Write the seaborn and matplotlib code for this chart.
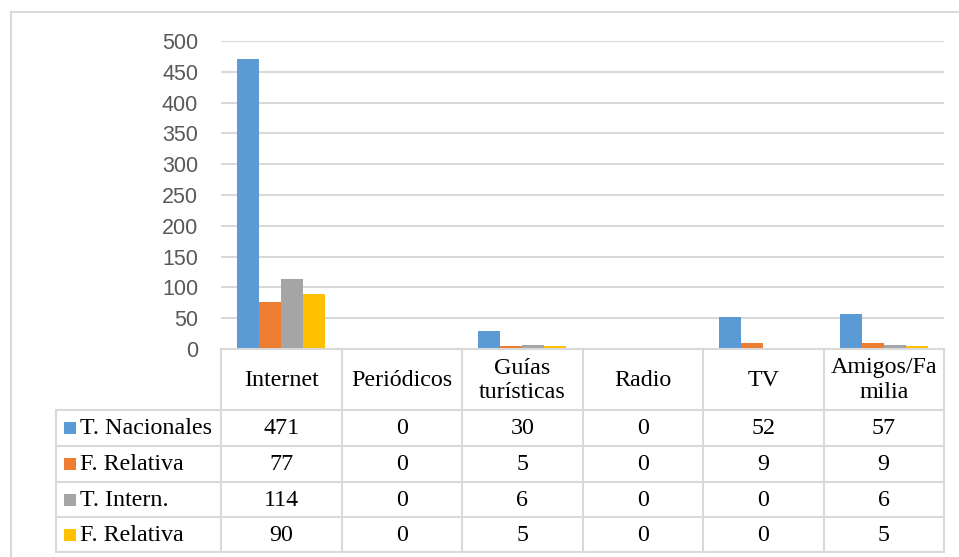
import matplotlib
matplotlib.use("Agg")
import matplotlib.pyplot as plt
import seaborn as sns
import pandas as pd

# ---- data ----
categories = ["Internet", "Periódicos", "Guías\nturísticas", "Radio", "TV", "Amigos/Fa\nmilia"]
series_labels = ["T. Nacionales", "F. Relativa", "T. Intern.", "F. Relativa"]
t_nacionales = [471, 0, 30, 0, 52, 57]
f_relativa_nac = [77, 0, 5, 0, 9, 9]
t_intern = [114, 0, 6, 0, 0, 6]
f_relativa_int = [90, 0, 5, 0, 0, 5]
series_values = [t_nacionales, f_relativa_nac, t_intern, f_relativa_int]
series_colors = ["#5B9BD5", "#ED7D31", "#A5A5A5", "#FFC000"]
y_ticks = [0, 50, 100, 150, 200, 250, 300, 350, 400, 450, 500]

series_keys = [f"{lab}#{i}" for i, lab in enumerate(series_labels)]
rows = []
for key, vals in zip(series_keys, series_values):
    for cat, v in zip(categories, vals):
        rows.append({"Categoría": cat, "Valor": v, "Serie": key})
df = pd.DataFrame(rows)
palette = dict(zip(series_keys, series_colors))

W, H = 959, 557
fig = plt.figure(figsize=(W / 100, H / 100), dpi=100)

x0, x1 = 221, 944
y0, ytop = 349, 41
ax = fig.add_axes([x0 / W, (H - y0) / H, (x1 - x0) / W, (y0 - ytop) / H])
sns.barplot(data=df, x="Categoría", y="Valor", hue="Serie", order=categories,
            hue_order=series_keys, palette=palette, width=0.73, saturation=1,
            legend=False, ax=ax, linewidth=0)
ax.set_xlim(-0.5, len(categories) - 0.5)
ax.set_ylim(0, 500)
ax.set_yticks(y_ticks)
ax.set_yticklabels([str(t) for t in y_ticks], fontfamily="Liberation Sans",
                   fontsize=15.5, color="#595959")
ax.set_xticks([])
ax.set_xlabel("")
ax.set_ylabel("")
ax.tick_params(axis="y", length=0, pad=16.5)
ax.yaxis.grid(True, color="#D9D9D9", linewidth=1.5)
ax.set_axisbelow(True)
for s in ax.spines.values():
    s.set_visible(False)
ax.patch.set_alpha(0)

# ---- overlay for data table and frame ----
ov = fig.add_axes([0, 0, 1, 1])
ov.set_xlim(0, W)
ov.set_ylim(H, 0)
ov.axis("off")
ov.patch.set_alpha(0)

lc = "#D9D9D9"
lw = 1.5
# outer frame
ov.plot([11, 11], [12, H], color=lc, lw=lw)
ov.plot([11, W], [12, 12], color=lc, lw=lw)

ncat = len(categories)
colw = (x1 - x0) / ncat
col_edges = [x0 + i * colw for i in range(ncat + 1)]
label_left = 56
row_edges = [410, 446, 482, 517, 552]

# horizontal lines
ov.plot([x0, x1], [y0, y0], color=lc, lw=lw)
for y in row_edges:
    ov.plot([label_left, x1], [y, y], color=lc, lw=lw)
# vertical lines
for x in col_edges:
    ov.plot([x, x], [y0, row_edges[-1]], color=lc, lw=lw)
ov.plot([label_left, label_left], [row_edges[0], row_edges[-1]], color=lc, lw=lw)

serif = "Liberation Serif"
fs = 17.3
# header
for i, cat in enumerate(categories):
    ov.text((col_edges[i] + col_edges[i + 1]) / 2, (y0 + row_edges[0]) / 2 + 1, cat,
            ha="center", va="center", fontfamily=serif, fontsize=fs,
            linespacing=1.25, color="black")
# rows
for r, (lab, vals, col) in enumerate(zip(series_labels, series_values, series_colors)):
    yc = (row_edges[r] + row_edges[r + 1]) / 2
    ov.add_patch(plt.Rectangle((64, yc - 6), 12, 12, color=col, lw=0))
    ov.text(80, yc + 1, lab, ha="left", va="center", fontfamily=serif,
            fontsize=fs, color="black")
    for i, v in enumerate(vals):
        ov.text((col_edges[i] + col_edges[i + 1]) / 2, yc + 1, str(v),
                ha="center", va="center", fontfamily=serif, fontsize=fs,
                color="black")

fig.savefig("out.png", dpi=100, facecolor="white")
